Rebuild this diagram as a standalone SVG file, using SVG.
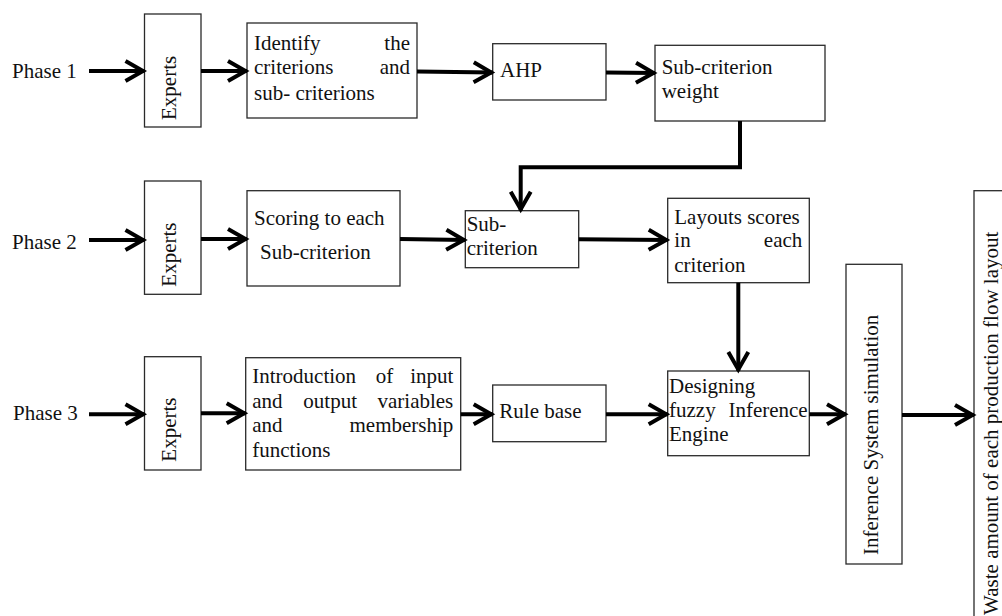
<svg xmlns="http://www.w3.org/2000/svg" width="1002" height="616" viewBox="0 0 1002 616">
<style>
text{font-family:"Liberation Serif","Times New Roman",serif;font-size:21px;fill:#111}
.box{fill:#fff;stroke:#2a2a2a;stroke-width:1.3}
.con{fill:none;stroke:#000;stroke-width:4;marker-end:url(#arr)}
.e{text-anchor:end}
</style>
<defs>
<marker id="arr" markerUnits="userSpaceOnUse" viewBox="-24 -14 28 28" markerWidth="28" markerHeight="28" refX="0" refY="0" orient="auto">
<path d="M-19,-10 L-1.5,0 L-19,10" fill="none" stroke="#000" stroke-width="4"/>
</marker>
</defs>
<rect width="1002" height="616" fill="#fff"/>
<g id="labels">
<text x="12" y="78">Phase 1</text>
<text x="12" y="249">Phase 2</text>
<text x="13" y="420">Phase 3</text>
</g>
<g id="experts1"><rect class="box" x="144.5" y="14" width="56.5" height="113"/><text transform="translate(176,120) rotate(-90)">Experts</text></g>
<g id="identify"><rect class="box" x="247" y="23" width="170" height="95"/>
<text x="254" y="50">Identify</text><text class="e" x="410" y="50">the</text>
<text x="254" y="74">criterions</text><text class="e" x="410" y="74">and</text>
<text x="254" y="100">sub- criterions</text></g>
<g id="ahp"><rect class="box" x="492.7" y="43.7" width="113.3" height="56.3"/><text x="500" y="77">AHP</text></g>
<g id="subweight"><rect class="box" x="655" y="45.3" width="170" height="75.7"/><text x="661.7" y="74">Sub-criterion</text><text x="661.7" y="98">weight</text></g>
<g id="experts2"><rect class="box" x="144.5" y="181" width="56.5" height="113.3"/><text transform="translate(176,286.7) rotate(-90)">Experts</text></g>
<g id="scoring"><rect class="box" x="247" y="190.7" width="153" height="95.3"/><text x="254" y="225">Scoring to each</text><text x="260" y="259">Sub-criterion</text></g>
<g id="subcrit"><rect class="box" x="465.3" y="210.7" width="113.4" height="57"/><text x="466.7" y="231">Sub-</text><text x="466.7" y="255">criterion</text></g>
<g id="layouts"><rect class="box" x="667.7" y="198.3" width="141.6" height="84.4"/>
<text x="674.3" y="224">Layouts scores</text>
<text x="674.3" y="247.3">in</text><text class="e" x="802.3" y="247.3">each</text>
<text x="674.3" y="271.7">criterion</text></g>
<g id="experts3"><rect class="box" x="144.5" y="356.7" width="56.5" height="113.3"/><text transform="translate(176,461.7) rotate(-90)">Experts</text></g>
<g id="intro"><rect class="box" x="245.7" y="357.7" width="215" height="112.3"/>
<text x="252.3" y="383.3">Introduction</text><text x="375.7" y="383.3">of</text><text class="e" x="453.3" y="383.3">input</text>
<text x="252.3" y="407.7">and</text><text x="303.3" y="407.7">output</text><text class="e" x="453.3" y="407.7">variables</text>
<text x="252.3" y="431.7">and</text><text class="e" x="453.3" y="431.7">membership</text>
<text x="252.3" y="456.7">functions</text></g>
<g id="rulebase"><rect class="box" x="492.7" y="385" width="113.3" height="56.7"/><text x="499.3" y="418.3">Rule base</text></g>
<g id="designing"><rect class="box" x="667.7" y="371" width="141.6" height="84.7"/>
<text x="669" y="392.7">Designing</text>
<text x="669" y="416.7">fuzzy</text><text class="e" x="807.7" y="416.7">Inference</text>
<text x="669" y="440.7">Engine</text></g>
<g id="inference"><rect class="box" x="846" y="264.3" width="56" height="299.7"/><text transform="translate(877.5,555) rotate(-90)">Inference System simulation</text></g>
<g id="waste"><rect class="box" x="974" y="190.7" width="40" height="440"/><text class="e" transform="translate(998,231.7) rotate(-90)">Waste amount of each production flow layout</text></g>
<g id="connectors">
<line class="con" x1="89" y1="71" x2="144.5" y2="71"/>
<line class="con" x1="201" y1="71" x2="247" y2="71"/>
<line class="con" x1="417" y1="71.5" x2="492.7" y2="72.5"/>
<line class="con" x1="606" y1="72.5" x2="655" y2="73"/>
<path class="con" d="M740,121 V167.3 H520.7 V210.7"/>
<line class="con" x1="89" y1="240" x2="144.5" y2="240"/>
<line class="con" x1="201" y1="239" x2="247" y2="239"/>
<line class="con" x1="400" y1="239" x2="465.3" y2="240"/>
<line class="con" x1="578.7" y1="239.3" x2="667.7" y2="240"/>
<line class="con" x1="738.3" y1="282.7" x2="738.3" y2="371"/>
<line class="con" x1="89" y1="414.3" x2="144.5" y2="414.3"/>
<line class="con" x1="201" y1="413.3" x2="245.7" y2="413.3"/>
<line class="con" x1="460.7" y1="414.3" x2="492.7" y2="414.3"/>
<line class="con" x1="606" y1="414.3" x2="667.7" y2="414.3"/>
<line class="con" x1="809.3" y1="414.3" x2="846" y2="414.3"/>
<line class="con" x1="902" y1="415" x2="974" y2="415"/>
</g>
</svg>
